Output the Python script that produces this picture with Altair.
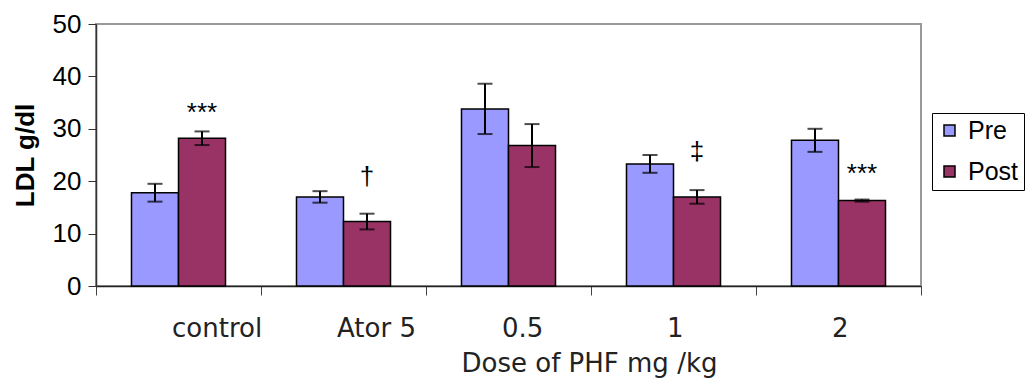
import altair as alt
import pandas as pd

groups = ["control", "Ator 5", "0.5", "1", "2"]
series = ["Pre", "Post"]
pre_vals = [17.8, 17.0, 33.8, 23.3, 27.8]
pre_err = [1.7, 1.1, 4.8, 1.7, 2.2]
post_vals = [28.2, 12.3, 26.8, 17.0, 16.3]
post_err = [1.3, 1.5, 4.1, 1.3, 0.2]
marks_text = ["***", "\u2020", "", "\u2021", "***"]
marks_y = [31.5, 19.2, None, 24.0, 19.8]
colors = ["#9999FF", "#993366"]

rows = []
for g, v, e in zip(groups, pre_vals, pre_err):
    rows.append({"group": g, "series": "Pre", "value": v, "lo": v - e, "hi": v + e})
for g, v, e in zip(groups, post_vals, post_err):
    rows.append({"group": g, "series": "Post", "value": v, "lo": v - e, "hi": v + e})
df = pd.DataFrame(rows)

ann = pd.DataFrame([
    {"group": g, "series": "Post", "label": t, "y": y}
    for g, t, y in zip(groups, marks_text, marks_y) if t
])

x_enc = alt.X("group:N", sort=groups,
              scale=alt.Scale(paddingInner=0, paddingOuter=0),
              axis=alt.Axis(title="Dose of PHF mg /kg", labelAngle=0, tickBand="extent",
                            labelFont="DejaVu Sans", labelFontSize=26, labelColor="#222",
                            labelBaseline="alphabetic", labelPadding=41, tickSize=9,
                            labelAlign="left", labelOffset=-7,
                            tickColor="#444", domainColor="#222", domainWidth=1.5,
                            titleFont="DejaVu Sans", titleFontSize=26, titleFontWeight="normal",
                            titleColor="#222", titleX=493, titleY=85, titleAlign="center",
                            titleBaseline="alphabetic", titleAnchor="start"))
xo_enc = alt.XOffset("series:N", sort=series,
                     scale=alt.Scale(domain=series, paddingInner=0, paddingOuter=0.755))
y_scale = alt.Scale(domain=[0, 50], nice=False)

bars = alt.Chart(df).mark_bar(stroke="black", strokeWidth=1.5).encode(
    x=x_enc,
    xOffset=xo_enc,
    y=alt.Y("value:Q", scale=y_scale,
            axis=alt.Axis(title="LDL g/dl", values=[0, 10, 20, 30, 40, 50], grid=False,
                          labelFont="Liberation Sans", labelFontSize=26, labelColor="black",
                          labelPadding=7, tickSize=8, tickColor="#333",
                          domainColor="#333", domainWidth=1.5,
                          titleFont="Liberation Sans", titleFontSize=26, titleFontWeight="bold",
                          titleColor="black", titlePadding=14)),
    color=alt.Color("series:N", sort=series,
                    scale=alt.Scale(domain=series, range=colors),
                    legend=alt.Legend(title=None, orient="none", legendX=836, legendY=89)),
)

rules = alt.Chart(df).mark_rule(color="black", strokeWidth=2).encode(
    x=alt.X("group:N", sort=groups),
    xOffset=alt.XOffset("series:N", sort=series),
    y=alt.Y("lo:Q"),
    y2="hi:Q",
)
caps_hi = alt.Chart(df).mark_tick(color="black", thickness=2, size=15, orient="horizontal").encode(
    x=alt.X("group:N", sort=groups),
    xOffset=alt.XOffset("series:N", sort=series),
    y=alt.Y("hi:Q"),
)
caps_lo = alt.Chart(df).mark_tick(color="black", thickness=2, size=15, orient="horizontal").encode(
    x=alt.X("group:N", sort=groups),
    xOffset=alt.XOffset("series:N", sort=series),
    y=alt.Y("lo:Q"),
)
texts = alt.Chart(ann).mark_text(font="Liberation Sans", fontSize=26, color="black",
                                 baseline="alphabetic", align="center").encode(
    x=alt.X("group:N", sort=groups),
    xOffset=alt.XOffset("series:N", sort=series),
    y=alt.Y("y:Q"),
    text="label:N",
)

chart = alt.layer(bars, rules, caps_hi, caps_lo, texts).properties(
    width=825, height=262,
    autosize=alt.AutoSizeParams(type="none"),
    padding={"left": 88, "top": 16, "right": 104, "bottom": 92},
).configure_view(
    stroke="#999", strokeWidth=2
).configure_legend(
    strokeColor="black", fillColor="white", padding=5, symbolType="square",
    symbolSize=121, symbolStrokeColor="black", symbolStrokeWidth=1.5, symbolOpacity=1,
    labelFont="Liberation Sans", labelFontSize=25, labelColor="black", rowPadding=15,
    labelOffset=6, cornerRadius=0
)

chart.save("out.html", embed_options={"renderer": "svg", "actions": False})
